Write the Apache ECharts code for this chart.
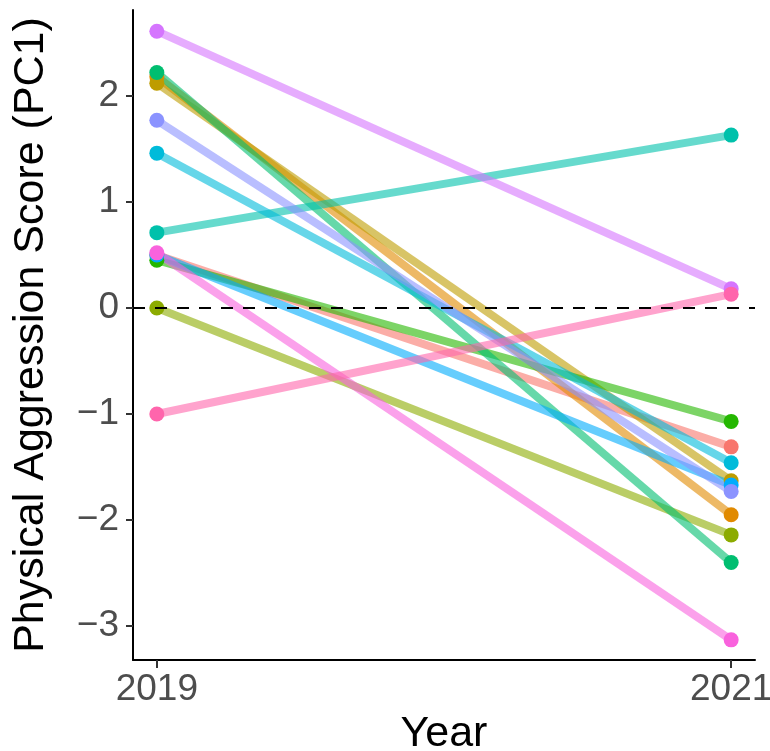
<!DOCTYPE html>
<html>
<head>
<meta charset="utf-8">
<script src="https://cdn.jsdelivr.net/npm/echarts@6/dist/echarts.min.js"></script>
<style>html,body{margin:0;padding:0;background:#fff}#c{width:770px;height:751px}</style>
</head>
<body>
<div id="c"></div>
<script>
const years = [2019, 2021];
const groups = ['G01','G02','G03','G04','G05','G06','G07','G08','G09','G10','G11','G12','G13'];
const score2019 = [0.50, 2.18, 2.12, 0.00, 0.45, 2.22, 0.71, 1.46, 0.50, 1.77, 2.61, 0.52, -1.00];
const score2021 = [-1.31, -1.95, -1.63, -2.14, -1.07, -2.40, 1.63, -1.46, -1.67, -1.73, 0.18, -3.13, 0.13];
const yTicks = [-3, -2, -1, 0, 1, 2];
const xTicks = [2019, 2021];

const palette = ['#F8766D','#E18A00','#BE9C00','#8CAB00','#24B700','#00BE70','#00C1AB','#00BBDA','#00ACFC','#8B93FF','#D575FE','#F962DD','#FF65AC'];
const FONT = '"Liberation Sans", Arial, Helvetica, sans-serif';

const series = [];
groups.forEach((g, i) => {
  series.push({
    name: g, type: 'line', z: 2,
    data: [[years[0], score2019[i]], [years[1], score2021[i]]],
    showSymbol: false, silent: true,
    lineStyle: { color: palette[i], width: 8, opacity: 0.6, cap: 'butt' },
    itemStyle: { color: palette[i] }
  });
});
groups.forEach((g, i) => {
  series.push({
    name: g + ' pts', type: 'scatter', z: 3,
    data: [[years[0], score2019[i]], [years[1], score2021[i]]],
    symbol: 'circle', symbolSize: 15, silent: true,
    itemStyle: { color: palette[i], opacity: 1 }
  });
});
series.push({
  type: 'line', z: 4, data: [], silent: true,
  markLine: {
    silent: true, symbol: 'none', label: { show: false },
    lineStyle: { color: '#000', width: 2.2, type: [12, 10] },
    data: [{ yAxis: 0 }]
  }
});

const chart = echarts.init(document.getElementById('c'), null, { renderer: 'canvas' });
chart.setOption({
  animation: false,
  backgroundColor: '#fff',
  grid: { left: 133, right: 15, top: 10, bottom: 91, containLabel: false, outerBoundsMode: 'none' },
  xAxis: {
    type: 'value', min: 2018.917, max: 2021.083,
    name: 'Year', nameLocation: 'middle', nameGap: 38,
    nameTextStyle: { fontSize: 43, color: '#000', fontFamily: FONT },
    axisLine: { show: true, onZero: false, lineStyle: { color: '#000', width: 2 } },
    axisTick: { show: true, length: 8, lineStyle: { color: '#333', width: 2 }, customValues: xTicks },
    axisLabel: { fontSize: 37, color: '#4D4D4D', fontFamily: FONT, margin: 11, customValues: xTicks, formatter: v => String(v) },
    splitLine: { show: false }
  },
  yAxis: {
    type: 'value', min: -3.32, max: 2.81,
    name: 'Physical Aggression Score (PC1)', nameLocation: 'middle', nameGap: 80, nameRotate: 90,
    nameTextStyle: { fontSize: 43, color: '#000', fontFamily: FONT },
    axisLine: { show: true, onZero: false, lineStyle: { color: '#000', width: 2 } },
    axisTick: { show: true, length: 7, lineStyle: { color: '#333', width: 2 }, customValues: yTicks },
    axisLabel: { fontSize: 37, color: '#4D4D4D', fontFamily: FONT, margin: 14, customValues: yTicks,
      formatter: v => (v < 0 ? '\u2212' + Math.abs(v) : String(v)) },
    splitLine: { show: false }
  },
  series: series
});
</script>
</body>
</html>
